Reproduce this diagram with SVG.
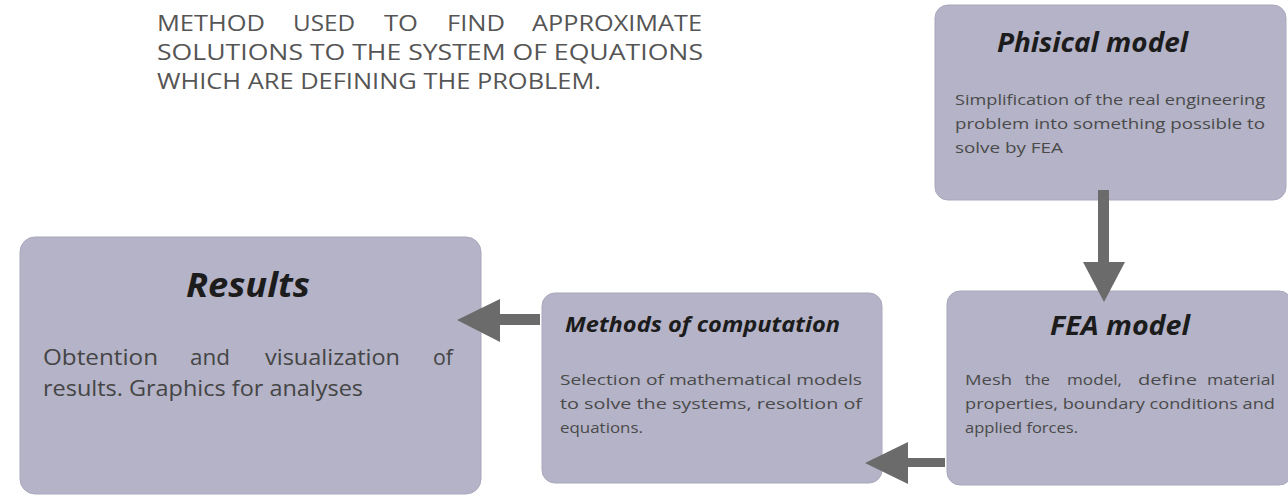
<svg xmlns="http://www.w3.org/2000/svg" width="1288" height="497" viewBox="0 0 1288 497">
<defs>
<style>
.box{fill:#b4b3c7;stroke:#a9a8bd;stroke-width:1}
.ttl{font-family:"Open Sans","Liberation Sans",sans-serif;font-weight:bold;font-style:italic;fill:#1c1c1c}
.body{font-family:"Open Sans","Liberation Sans",sans-serif;fill:#4a4a4a;font-size:14px}
.head{font-family:"Open Sans","Liberation Sans",sans-serif;fill:#555555;font-size:22px}
.res{font-family:"Open Sans","Liberation Sans",sans-serif;fill:#454545;font-size:22px}
.arr{fill:#6b6b6b}
</style>
</defs>
<rect width="1288" height="497" fill="#ffffff"/>
<g id="header">
<text class="head" y="31"><tspan x="157" textLength="108" lengthAdjust="spacingAndGlyphs">METHOD</tspan><tspan x="293" textLength="62" lengthAdjust="spacingAndGlyphs">USED</tspan><tspan x="384" textLength="34" lengthAdjust="spacingAndGlyphs">TO</tspan><tspan x="447" textLength="58" lengthAdjust="spacingAndGlyphs">FIND</tspan><tspan x="532" textLength="170" lengthAdjust="spacingAndGlyphs">APPROXIMATE</tspan></text>
<text class="head" x="157" y="60" textLength="546" lengthAdjust="spacingAndGlyphs">SOLUTIONS TO  THE SYSTEM OF EQUATIONS</text>
<text class="head" x="157" y="89" textLength="444" lengthAdjust="spacingAndGlyphs">WHICH ARE DEFINING THE PROBLEM.</text>
</g>
<g id="physical">
<rect class="box" x="935" y="5" width="351" height="195" rx="13"/>
<text class="ttl" x="997" y="52" font-size="26" textLength="191" lengthAdjust="spacingAndGlyphs">Phisical model</text>
<text class="body" x="955" y="105" textLength="310" lengthAdjust="spacingAndGlyphs">Simplification of the real engineering</text>
<text class="body" x="955" y="129" textLength="310" lengthAdjust="spacingAndGlyphs">problem  into something possible to</text>
<text class="body" x="955" y="153" textLength="108" lengthAdjust="spacingAndGlyphs">solve by FEA</text>
</g>
<g id="fea">
<rect class="box" x="947" y="291" width="345" height="194" rx="13"/>
<text class="ttl" x="1050" y="335" font-size="26" textLength="140" lengthAdjust="spacingAndGlyphs">FEA model</text>
<text class="body" y="385"><tspan x="965" textLength="47" lengthAdjust="spacingAndGlyphs">Mesh</tspan><tspan x="1025" textLength="25" lengthAdjust="spacingAndGlyphs">the</tspan><tspan x="1067" textLength="55" lengthAdjust="spacingAndGlyphs">model,</tspan><tspan x="1138" textLength="59" lengthAdjust="spacingAndGlyphs">define</tspan><tspan x="1207" textLength="68" lengthAdjust="spacingAndGlyphs">material</tspan></text>
<text class="body" x="965" y="409" textLength="310" lengthAdjust="spacingAndGlyphs">properties, boundary conditions and</text>
<text class="body" x="965" y="433" textLength="113" lengthAdjust="spacingAndGlyphs">applied forces.</text>
</g>
<g id="methods">
<rect class="box" x="542" y="293" width="340" height="190" rx="13"/>
<text class="ttl" x="565" y="332" font-size="21" textLength="275" lengthAdjust="spacingAndGlyphs">Methods of computation</text>
<text class="body" x="560" y="385" textLength="302" lengthAdjust="spacingAndGlyphs">Selection of mathematical models</text>
<text class="body" x="560" y="409" textLength="302" lengthAdjust="spacingAndGlyphs">to solve the systems, resoltion of</text>
<text class="body" x="560" y="433" textLength="83" lengthAdjust="spacingAndGlyphs">equations.</text>
</g>
<g id="results">
<rect class="box" x="20" y="237" width="461" height="257" rx="15"/>
<text class="ttl" x="186" y="297" font-size="34" textLength="124" lengthAdjust="spacingAndGlyphs">Results</text>
<text class="res" y="365"><tspan x="43" textLength="115" lengthAdjust="spacingAndGlyphs">Obtention</tspan><tspan x="190" textLength="40" lengthAdjust="spacingAndGlyphs">and</tspan><tspan x="265" textLength="135" lengthAdjust="spacingAndGlyphs">visualization</tspan><tspan x="433" textLength="20" lengthAdjust="spacingAndGlyphs">of</tspan></text>
<text class="res" x="43" y="396" textLength="320" lengthAdjust="spacingAndGlyphs">results. Graphics for analyses</text>
</g>
<g id="connectors">
<path class="arr" d="M1098,190 H1109 V262 H1125 L1104,302 L1083,262 H1098 Z"/>
<path class="arr" d="M945,458 V467 H908 V484 L865,463 L908,442 V458 Z"/>
<path class="arr" d="M540,314 V325 H500 V342 L457,320 L500,299 V314 Z"/>
</g>
</svg>
